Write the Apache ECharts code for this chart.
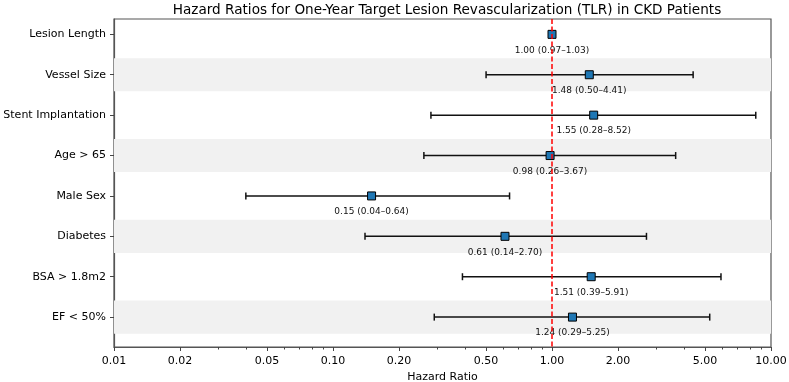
<!DOCTYPE html>
<html>
<head>
<meta charset="utf-8">
<script src="https://cdn.jsdelivr.net/npm/echarts@6/dist/echarts.min.js"></script>
<style>
  html, body { margin: 0; padding: 0; background: #fff; }
  #chart { width: 789px; height: 382px; }
</style>
</head>
<body>
<div id="chart"></div>
<script>
const categories = ['Lesion Length', 'Vessel Size', 'Stent Implantation', 'Age > 65', 'Male Sex', 'Diabetes', 'BSA > 1.8m2', 'EF < 50%'];
const hazardRatio = [1.00, 1.48, 1.55, 0.98, 0.15, 0.61, 1.51, 1.24];
const ciLower = [0.97, 0.50, 0.28, 0.26, 0.04, 0.14, 0.39, 0.29];
const ciUpper = [1.03, 4.41, 8.52, 3.67, 0.64, 2.70, 5.91, 5.25];
const majorTicks = [0.01, 0.02, 0.05, 0.1, 0.2, 0.5, 1, 2, 5, 10];
const minorTicks = [0.03, 0.04, 0.06, 0.07, 0.08, 0.09, 0.3, 0.4, 0.6, 0.7, 0.8, 0.9, 3, 4, 6, 7, 8, 9];
const shadedRows = [1, 3, 5, 7];

const FONT = 'DejaVu Sans';
const chart = echarts.init(document.getElementById('chart'), null, { renderer: 'canvas' });

const rowIdx = categories.map((c, i) => i);
const fmt = v => v.toFixed(2);

const option = {
    animation: false,
    title: {
        text: 'Hazard Ratios for One-Year Target Lesion Revascularization (TLR) in CKD Patients',
        left: 442, textAlign: 'center', top: -2,
        textStyle: { fontFamily: FONT, fontSize: 13.6, fontWeight: 'normal', color: '#000' }
    },
    grid: {
        left: 114, right: 18, top: 19, bottom: 35,
        outerBoundsMode: 'none', containLabel: false,
        show: true, borderColor: '#555', borderWidth: 1.2, backgroundColor: 'transparent'
    },
    xAxis: [
        {
            type: 'log', logBase: 10, min: 0.01, max: 10,
            name: 'Hazard Ratio', nameLocation: 'middle', nameGap: 22,
            nameTextStyle: { fontFamily: FONT, fontSize: 11, color: '#000' },
            axisLine: { show: true, onZero: false, lineStyle: { color: '#555', width: 1.2 } },
            axisTick: { show: true, length: 4, customValues: majorTicks, lineStyle: { color: '#444' } },
            axisLabel: {
                customValues: majorTicks, margin: 9,
                fontFamily: FONT, fontSize: 11, color: '#000',
                formatter: v => fmt(Number(v))
            },
            splitLine: { show: false },
            minorTick: { show: false }
        },
        {
            type: 'log', logBase: 10, min: 0.01, max: 10, position: 'bottom',
            axisLine: { show: false, onZero: false },
            axisTick: { show: true, length: 2.5, customValues: minorTicks, lineStyle: { color: '#444' } },
            axisLabel: { show: false },
            splitLine: { show: false }
        }
    ],
    yAxis: {
        type: 'value', inverse: true, min: -0.38, max: 7.74,
        axisLine: { show: true, onZero: false, lineStyle: { color: '#555', width: 1.2 } },
        axisTick: { show: true, length: 4, customValues: rowIdx, lineStyle: { color: '#444' } },
        axisLabel: {
            customValues: rowIdx, margin: 8,
            fontFamily: FONT, fontSize: 11, color: '#000',
            formatter: v => categories[Math.round(v)]
        },
        splitLine: { show: false }
    },
    series: [
        {
            type: 'line', data: [], z: 1, silent: true,
            markArea: {
                silent: true,
                itemStyle: { color: '#f1f1f1' },
                data: shadedRows.map(i => [{ yAxis: i - 0.41 }, { yAxis: i + 0.41 }])
            }
        },
        {
            type: 'custom', z: 3, silent: true,
            data: rowIdx.map(i => [ciLower[i], ciUpper[i], i]),
            encode: { x: [0, 1], y: 2 },
            renderItem: (params, api) => {
                const p1 = api.coord([api.value(0), api.value(2)]);
                const p2 = api.coord([api.value(1), api.value(2)]);
                const style = { stroke: '#111', lineWidth: 1.5 };
                const cap = 3.5;
                return {
                    type: 'group',
                    children: [
                        { type: 'line', shape: { x1: p1[0], y1: p1[1], x2: p2[0], y2: p2[1] }, style },
                        { type: 'line', shape: { x1: p1[0], y1: p1[1] - cap, x2: p1[0], y2: p1[1] + cap }, style },
                        { type: 'line', shape: { x1: p2[0], y1: p2[1] - cap, x2: p2[0], y2: p2[1] + cap }, style }
                    ]
                };
            }
        },
        {
            type: 'scatter', z: 4,
            symbol: 'rect', symbolSize: 8,
            itemStyle: { color: '#1f77b4', borderColor: '#000', borderWidth: 1, opacity: 1 },
            data: rowIdx.map(i => [hazardRatio[i], i]),
            label: {
                show: true, position: 'inside', offset: [0, 16],
                fontFamily: FONT, fontSize: 9, color: '#111',
                formatter: p => fmt(hazardRatio[p.dataIndex]) + ' (' + fmt(ciLower[p.dataIndex]) + '\u2013' + fmt(ciUpper[p.dataIndex]) + ')'
            },
            markLine: {
                silent: true, symbol: 'none',
                label: { show: false },
                lineStyle: { color: '#ff0000', type: [5, 2.5], width: 1.5, opacity: 1 },
                data: [{ xAxis: 1 }]
            }
        }
    ]
};

chart.setOption(option);
</script>
</body>
</html>
